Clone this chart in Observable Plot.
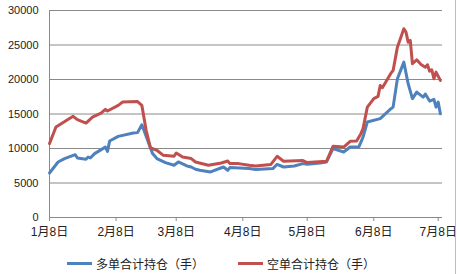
<!DOCTYPE html>
<html>
<head>
<meta charset="utf-8">
<script src="https://cdn.jsdelivr.net/npm/d3@7"></script>
<script src="https://cdn.jsdelivr.net/npm/@observablehq/plot@0.6"></script>
<style>
  html, body { margin: 0; padding: 0; background: #fff; }
  #wrap { position: relative; width: 457px; height: 274px; overflow: hidden;
          font-family: 'Liberation Sans', 'Noto Sans CJK SC', sans-serif; }
  #legend { position: absolute; left: 0; top: 253px; height: 20px; width: 457px; font-size: 12px; color: #222; }
  .item { position: absolute; top: 0; height: 20px; display: flex; align-items: center; }
  .sw { width: 25px; height: 3px; margin-right: 4px; }
  #edge { position: absolute; left: 455px; top: 0; width: 1px; height: 274px; background: #bdbdbd; }
</style>
</head>
<body>
<div id="wrap">
  <div id="chart"></div>
  <div id="legend"></div>
  <div id="edge"></div>
</div>
<script>
// Series names
const seriesNames = ["多单合计持仓（手）", "空单合计持仓（手）"];
const seriesColors = ["#4F81BD", "#C0504D"];

// 多单合计持仓 (long)
const longDates = ["2013-01-08","2013-01-12","2013-01-15","2013-01-20","2013-01-21","2013-01-25","2013-01-26","2013-01-27","2013-01-29","2013-02-03","2013-02-04","2013-02-05","2013-02-09","2013-02-16","2013-02-18","2013-02-20","2013-02-21","2013-02-25","2013-02-27","2013-03-03","2013-03-07","2013-03-09","2013-03-13","2013-03-15","2013-03-17","2013-03-19","2013-03-24","2013-03-30","2013-04-01","2013-04-02","2013-04-11","2013-04-14","2013-04-22","2013-04-24","2013-04-27","2013-05-02","2013-05-06","2013-05-08","2013-05-14","2013-05-17","2013-05-20","2013-05-25","2013-05-28","2013-06-01","2013-06-03","2013-06-05","2013-06-11","2013-06-16","2013-06-17","2013-06-19","2013-06-22","2013-06-24","2013-06-26","2013-06-28","2013-07-01","2013-07-02","2013-07-04","2013-07-06","2013-07-07","2013-07-08","2013-07-09"];
const longValues = [6450,8050,8540,9100,8620,8440,8770,8620,9260,10200,9590,11080,11760,12240,12300,13450,12630,9260,8540,7950,7570,8050,7470,7320,6990,6840,6600,7320,6840,7230,7090,6950,7090,7710,7320,7470,7810,7710,7900,8050,9980,9490,10210,10210,11660,13830,14330,15770,16000,20110,22520,19390,17220,18170,17450,17900,16870,17120,16000,16730,15050];

// 空单合计持仓 (short)
const shortDates = ["2013-01-08","2013-01-11","2013-01-19","2013-01-21","2013-01-25","2013-01-28","2013-02-01","2013-02-03","2013-02-04","2013-02-09","2013-02-11","2013-02-18","2013-02-20","2013-02-22","2013-02-24","2013-02-27","2013-03-02","2013-03-07","2013-03-08","2013-03-11","2013-03-15","2013-03-17","2013-03-23","2013-03-29","2013-04-01","2013-04-02","2013-04-06","2013-04-11","2013-04-14","2013-04-21","2013-04-24","2013-04-27","2013-05-06","2013-05-08","2013-05-17","2013-05-20","2013-05-25","2013-05-28","2013-05-31","2013-06-02","2013-06-03","2013-06-05","2013-06-08","2013-06-10","2013-06-11","2013-06-12","2013-06-16","2013-06-17","2013-06-19","2013-06-22","2013-06-23","2013-06-24","2013-06-25","2013-06-26","2013-06-28","2013-06-30","2013-07-02","2013-07-03","2013-07-04","2013-07-05","2013-07-06","2013-07-07","2013-07-09"];
const shortValues = [10710,13110,14660,14180,13690,14560,15140,15670,15430,16250,16730,16800,16250,12630,10130,9740,9010,8870,9350,8770,8540,8050,7570,7900,8190,7810,7810,7570,7470,7670,8870,8150,8250,7960,8150,10320,10210,11040,11080,12150,12880,16000,17220,17550,19140,18810,20920,21310,24690,27350,26860,25410,25660,22280,22860,22180,21790,22140,21210,21410,20110,21070,19870];

// Axis ticks
const xTickDates = ["2013-01-08","2013-02-08","2013-03-08","2013-04-08","2013-05-08","2013-06-08","2013-07-08"];
const yTicks = [0, 5000, 10000, 15000, 20000, 25000, 30000];

const parse = s => new Date(s + "T00:00:00Z");
const rows = [];
longDates.forEach((d, i) => rows.push({date: parse(d), value: longValues[i], series: seriesNames[0]}));
shortDates.forEach((d, i) => rows.push({date: parse(d), value: shortValues[i], series: seriesNames[1]}));

const xStart = parse("2013-01-08"), xEnd = parse("2013-07-10");

const chart = Plot.plot({
  width: 457,
  height: 253,
  marginLeft: 49,
  marginRight: 15,
  marginTop: 10,
  marginBottom: 36,
  style: {fontFamily: "'Liberation Sans', 'Noto Sans CJK SC', sans-serif", fontSize: "11px", color: "#222", background: "#fff"},
  x: {type: "utc", domain: [xStart, xEnd]},
  y: {domain: [0, 30000]},
  color: {domain: seriesNames, range: seriesColors},
  marks: [
    Plot.gridY(yTicks.filter(v => v > 0), {stroke: "#8a8a8a", strokeOpacity: 1, strokeWidth: 1}),
    Plot.ruleX([xStart], {stroke: "#8a8a8a", strokeWidth: 1}),
    Plot.ruleY([0], {stroke: "#8a8a8a", strokeWidth: 1}),
    Plot.axisY(yTicks, {tickSize: 0, tickPadding: 11, label: null, fontSize: 11, tickFormat: d => String(d)}),
    Plot.axisX(xTickDates.map(parse), {
      tickSize: 4, tickPadding: 6, label: null, stroke: "#8a8a8a", fontSize: 12,
      tickFormat: d => `${d.getUTCMonth() + 1}月${d.getUTCDate()}日`
    }),
    Plot.line(rows, {x: "date", y: "value", z: "series", stroke: "series", strokeWidth: 3, strokeLinejoin: "round", curve: "linear"})
  ]
});
document.getElementById("chart").appendChild(chart);

// Legend
const legend = document.getElementById("legend");
const lefts = [67, 238];
seriesNames.forEach((name, i) => {
  const it = document.createElement("div");
  it.className = "item";
  it.style.left = lefts[i] + "px";
  const sw = document.createElement("div");
  sw.className = "sw";
  sw.style.background = seriesColors[i];
  const tx = document.createElement("span");
  tx.textContent = name;
  it.appendChild(sw);
  it.appendChild(tx);
  legend.appendChild(it);
});
</script>
</body>
</html>
